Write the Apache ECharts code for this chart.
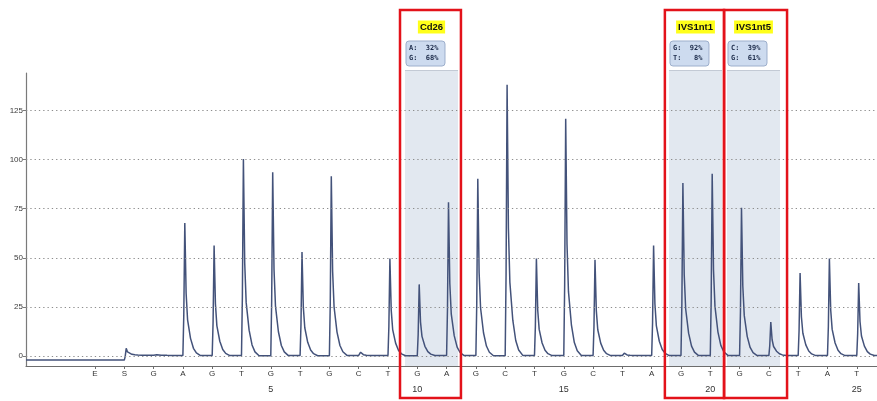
<!DOCTYPE html>
<html><head><meta charset="utf-8">
<script src="https://cdn.jsdelivr.net/npm/echarts@6/dist/echarts.min.js"></script>
<style>html,body{margin:0;padding:0;background:#fff}#c{width:877px;height:401px}</style>
</head><body><div id="c"></div>
<script>
// ---- data ----
const dispensations = ['E','S','G','A','G','T','G','T','G','C','T','G','A','G','C','T','G','C','T','A','G','T','G','C','T','A','T'];
const positions     = [-1, 0, 1, 2, 3, 4, 5, 6, 7, 8, 9, 10, 11, 12, 13, 14, 15, 16, 17, 18, 19, 20, 21, 22, 23, 24, 25];
const peakHeights   = [-2, 4, 1, 67.7, 56.3, 100.3, 93.5, 53, 91.5, 2, 49.6, 36.5, 78.3, 90.2, 138, 49.6, 120.7, 49, 1.5, 56.3, 88, 92.7, 75.5, 17.4, 42.3, 49.6, 37.2];
const valleyLevels  = [-2, 0.5, 0.4, 0.3, 0.3, 0.2, 0.3, 0.2, 0.4, 0.3, 0.2, 0.3, 0.3, 0.2, 0.4, 0.3, 0.3, 0.3, 0.3, 0.3, 0.3, 0.4, 0.3, 0.3, 0.3, 0.3, 0.3];
const startLevel = -2;
// peak shape (offset from dispensation, fraction of peak height)
const peakProfileOffsets   = [0.0, 0.03, 0.065, 0.11, 0.16, 0.26, 0.36, 0.46, 0.6];
const peakProfileFractions = [0.0, 0.3, 1.0, 0.47, 0.27, 0.13, 0.055, 0.02, 0.0];
const yTicks = [0, 25, 50, 75, 100, 125];
const yMin = -5, yMax = 144;
const xMin = -3.355, xMax = 25.69;
const tickNumbers = [5, 10, 15, 20, 25];
// annotated variant positions
const regionNames    = ['Cd26', 'IVS1nt1', 'IVS1nt5'];
const regionShadeFrom = [9.58, 18.59, 20.57];
const regionShadeTo   = [11.39, 20.40, 22.38];
const regionBoxFrom   = [9.41, 18.45, 20.47];
const regionBoxTo     = [11.49, 20.47, 22.62];
const regionPctLine1  = ['A:  32%', 'G:  92%', 'C:  39%'];
const regionPctLine2  = ['G:  68%', 'T:   8%', 'G:  61%'];

// ---- build the trace polyline from the arrays ----
const trace = [[xMin, startLevel]];
let prev = startLevel;
positions.forEach((p, i) => {
  const h = peakHeights[i], after = valleyLevels[i];
  const peakK = peakProfileFractions.indexOf(1.0);
  peakProfileOffsets.forEach((o, k) => {
    const base = k <= peakK ? prev : after;
    trace.push([p + o, base + peakProfileFractions[k] * (h - base)]);
  });
  prev = after;
});
trace.push([xMax, prev]);

const regionData = regionNames.map((n, i) => [regionShadeFrom[i], regionShadeTo[i], regionBoxFrom[i], regionBoxTo[i], i]);

const chart = echarts.init(document.getElementById('c'), null, {renderer: 'canvas'});
const FONT = 'Liberation Sans, Arial, sans-serif';

chart.setOption({
  animation: false,
  backgroundColor: '#fff',
  grid: {left: 26, right: 0, top: 73, bottom: 35},
  xAxis: {
    type: 'value', min: xMin, max: xMax,
    splitLine: {show: false},
    axisLine: {show: true, onZero: false, lineStyle: {color: '#6d6d6d', width: 1.2}},
    axisTick: {show: true, customValues: positions, length: 3, lineStyle: {color: '#6d6d6d'}},
    axisLabel: {
      customValues: positions, margin: 2,
      formatter: v => {
        const i = positions.indexOf(Math.round(v));
        const letter = dispensations[i] || '';
        let s = '{l|' + letter + '}';
        if (tickNumbers.indexOf(Math.round(v)) >= 0) s += '\n{n|' + Math.round(v) + '}';
        return s;
      },
      rich: {
        l: {fontSize: 8, lineHeight: 11, color: '#333', fontFamily: FONT},
        n: {fontSize: 9, lineHeight: 21, color: '#333', fontFamily: FONT}
      }
    }
  },
  yAxis: {
    type: 'value', min: yMin, max: yMax,
    splitLine: {show: false},
    axisLine: {show: true, onZero: false, lineStyle: {color: '#7a7a7a', width: 1.2}},
    axisTick: {show: true, customValues: yTicks, length: 3, lineStyle: {color: '#7a7a7a'}},
    axisLabel: {customValues: yTicks, fontSize: 8, color: '#3a3a3a', margin: 3, fontFamily: FONT}
  },
  series: [
    {
      // shaded variable-position areas
      type: 'custom', z: 1, silent: true, clip: false,
      data: regionData,
      renderItem: (params, api) => {
        const x1 = api.coord([api.value(0), 0])[0];
        const x2 = api.coord([api.value(1), 0])[0];
        const yb = api.coord([0, yMin])[1];
        const yt = params.coordSys.y - 3;
        return {type: 'group', children: [
          {type: 'rect', shape: {x: x1, y: yt, width: x2 - x1, height: yb - yt}, style: {fill: '#e2e8f0'}},
          {type: 'line', shape: {x1: x1, y1: yt + 0.5, x2: x2, y2: yt + 0.5}, style: {stroke: '#c3cad5', lineWidth: 1}}
        ]};
      }
    },
    {
      // dotted horizontal grid
      type: 'line', z: 2, data: [], silent: true,
      markLine: {
        silent: true, symbol: ['none', 'none'], label: {show: false},
        lineStyle: {type: [1.3, 3], color: '#8d8d8d', width: 1.2},
        data: yTicks.map(v => ({yAxis: v}))
      }
    },
    {
      type: 'line', z: 3, data: trace, showSymbol: false, symbol: 'none', silent: true,
      lineStyle: {color: '#43527a', width: 1.5}
    },
    {
      // red boxes, titles and percentage boxes
      type: 'custom', z: 10, silent: true, clip: false,
      data: regionData,
      renderItem: (params, api) => {
        const i = api.value(4);
        const sx1 = api.coord([api.value(0), 0])[0];
        const sx2 = api.coord([api.value(1), 0])[0];
        const bx1 = api.coord([api.value(2), 0])[0];
        const bx2 = api.coord([api.value(3), 0])[0];
        const top = params.coordSys.y - 63;
        const bottom = params.coordSys.y + params.coordSys.height + 32;
        const cx = (sx1 + sx2) / 2;
        return {type: 'group', children: [
          {type: 'rect', shape: {x: bx1, y: top, width: bx2 - bx1, height: bottom - top},
           style: {fill: 'none', stroke: '#e3121a', lineWidth: 2.5}},
          {type: 'text', style: {text: regionNames[i], x: cx, y: params.coordSys.y - 46,
            align: 'center', verticalAlign: 'middle', fill: '#111',
            font: 'bold 9.5px ' + FONT, backgroundColor: '#ffff1a', padding: [2, 2, 1, 2]}},
          {type: 'rect', shape: {x: sx1 + 1, y: params.coordSys.y - 32, width: 39, height: 25, r: 3},
           style: {fill: '#cddbef', stroke: '#9dafcc', lineWidth: 1}},
          {type: 'text', style: {text: regionPctLine1[i], x: sx1 + 4, y: params.coordSys.y - 25,
            verticalAlign: 'middle', fill: '#1c2b4a', font: 'bold 7px DejaVu Sans Mono, monospace'}},
          {type: 'text', style: {text: regionPctLine2[i], x: sx1 + 4, y: params.coordSys.y - 15,
            verticalAlign: 'middle', fill: '#1c2b4a', font: 'bold 7px DejaVu Sans Mono, monospace'}}
        ]};
      }
    }
  ]
});
</script>
</body></html>
